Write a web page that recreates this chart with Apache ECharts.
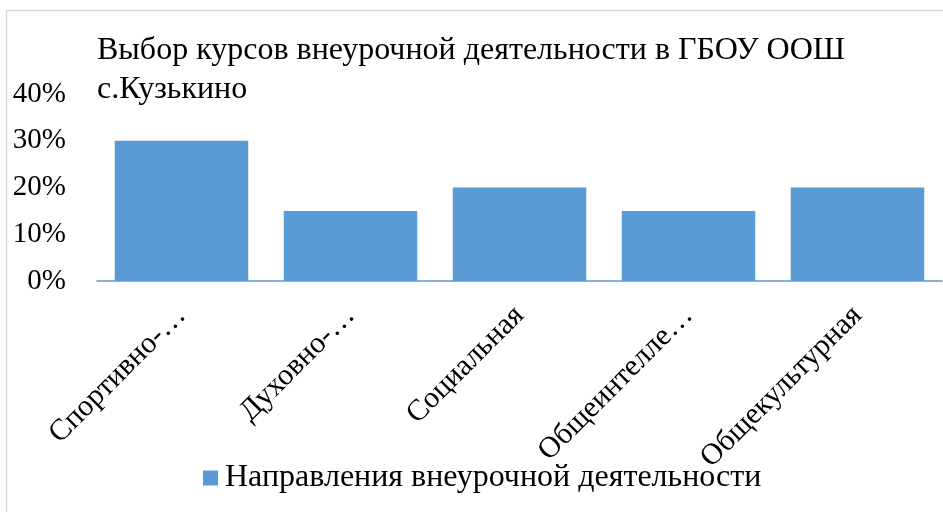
<!DOCTYPE html>
<html>
<head>
<meta charset="utf-8">
<script src="https://cdn.jsdelivr.net/npm/echarts@6/dist/echarts.min.js"></script>
<style>
  html, body { margin: 0; padding: 0; background: #fff; }
  #chart { width: 943px; height: 512px; }
</style>
</head>
<body>
<div id="chart"></div>
<script>
// data
const titleText = 'Выбор курсов внеурочной деятельности в ГБОУ ООШ\nс.Кузькино'
const seriesName = 'Направления внеурочной деятельности'
const categories = ['Спортивно-…', 'Духовно-…', 'Социальная', 'Общеинтелле…', 'Общекультурная']
const values = [0.30, 0.15, 0.20, 0.15, 0.20]

const font = '"Liberation Serif", "Times New Roman", serif'
const blue = '#5b9bd5'

const chart = echarts.init(document.getElementById('chart'))

chart.setOption({
  animation: false,
  textStyle: { fontFamily: font, color: '#000' },
  title: {
    text: titleText,
    left: 97,
    top: 31,
    padding: 0,
    textStyle: { fontFamily: font, fontSize: 32, fontWeight: 'normal', color: '#000', lineHeight: 39 },
  },
  graphic: [
    {
      type: 'rect',
      shape: { x: 6.5, y: 10.5, width: 1000, height: 1000 },
      style: { fill: 'none', stroke: '#d9d9d9', lineWidth: 1.5 },
      silent: true,
      z: -1,
    },
  ],
  legend: {
    data: [seriesName],
    left: 203,
    top: 462,
    padding: 0,
    icon: 'rect',
    itemWidth: 15,
    itemHeight: 15,
    itemGap: 10,
    textStyle: { fontFamily: font, fontSize: 32, color: '#000', padding: [0, 0, 0, 2] },
  },
  grid: { left: 97, right: 1, top: 94, bottom: 231, containLabel: false },
  xAxis: {
    type: 'category',
    data: categories,
    axisLine: { lineStyle: { color: blue, width: 1.5 } },
    axisTick: { show: false },
    axisLabel: {
      interval: 0,
      rotate: 45,
      margin: 30,
      fontFamily: font,
      fontSize: 30,
      color: '#000',
    },
  },
  yAxis: {
    type: 'value',
    min: 0,
    max: 0.4,
    interval: 0.1,
    axisLine: { show: false },
    axisTick: { show: false },
    splitLine: { show: false },
    axisLabel: {
      margin: 31,
      fontFamily: font,
      fontSize: 29,
      color: '#000',
      formatter: (v) => Math.round(v * 100) + '%',
    },
  },
  series: [
    {
      name: seriesName,
      type: 'bar',
      data: values,
      barCategoryGap: '21%',
      itemStyle: { color: blue },
    },
  ],
})
</script>
</body>
</html>
